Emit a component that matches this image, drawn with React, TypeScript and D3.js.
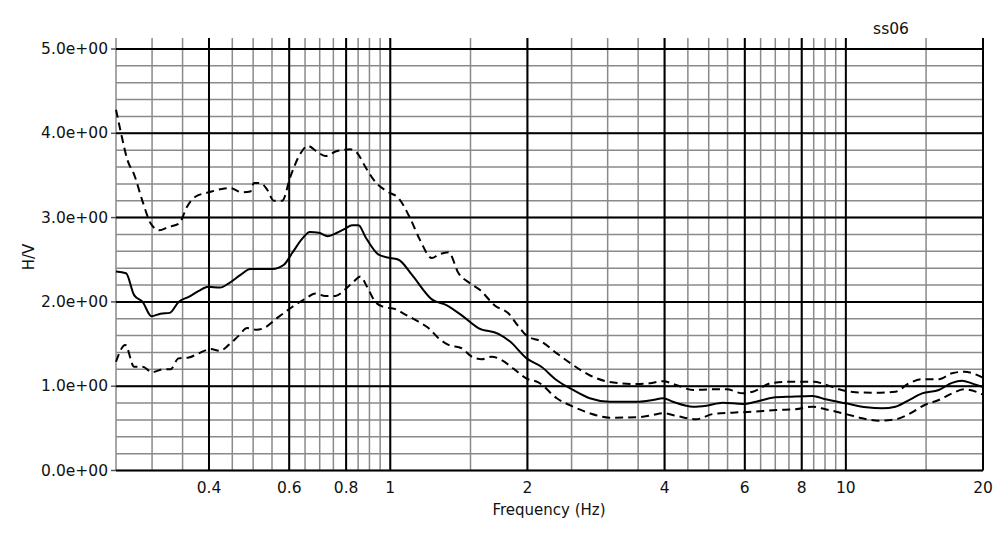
import React from "react";
import * as d3 from "d3";

const meanFreq = [0.25,0.263,0.274,0.286,0.299,0.313,0.328,0.343,0.361,0.38,0.398,0.423,0.442,0.469,0.493,0.512,0.551,0.584,0.609,0.641,0.666,0.697,0.729,0.764,0.797,0.824,0.852,0.882,0.943,1.0,1.043,1.116,1.234,1.331,1.435,1.561,1.727,1.832,1.992,2.146,2.32,2.52,2.74,3.03,3.52,3.77,3.97,4.17,4.62,4.94,5.37,5.94,6.35,6.9,7.6,8.44,9.02,10.0,11.1,12.0,12.85,13.76,14.7,16.0,17.1,18.0,18.9,20.0];
const meanHV = [2.36,2.34,2.08,2.0,1.83,1.86,1.87,2.0,2.06,2.13,2.18,2.17,2.22,2.32,2.39,2.39,2.39,2.44,2.58,2.75,2.83,2.82,2.78,2.82,2.87,2.91,2.91,2.77,2.56,2.52,2.50,2.32,2.03,1.96,1.84,1.69,1.62,1.53,1.33,1.23,1.07,0.955,0.857,0.816,0.816,0.836,0.857,0.816,0.757,0.769,0.804,0.789,0.816,0.864,0.876,0.884,0.845,0.797,0.75,0.738,0.757,0.836,0.915,0.955,1.04,1.065,1.034,0.99];

const upperFreq = [0.25,0.256,0.265,0.274,0.286,0.298,0.311,0.326,0.344,0.358,0.374,0.40,0.427,0.445,0.472,0.493,0.502,0.519,0.537,0.555,0.579,0.604,0.635,0.659,0.691,0.72,0.764,0.817,0.845,0.882,0.919,0.983,1.043,1.106,1.163,1.234,1.276,1.342,1.412,1.497,1.574,1.698,1.816,1.911,1.992,2.146,2.32,2.52,2.74,3.03,3.47,3.71,3.97,4.24,4.62,5.11,5.47,5.94,6.25,6.9,7.6,8.5,9.02,9.66,10.5,11.6,12.85,13.76,14.7,16.0,17.1,18.2,20.0];
const upperHV = [4.28,4.02,3.68,3.51,3.19,2.93,2.85,2.89,2.93,3.13,3.25,3.30,3.34,3.35,3.30,3.31,3.41,3.41,3.33,3.20,3.20,3.49,3.76,3.85,3.78,3.73,3.79,3.81,3.77,3.60,3.45,3.31,3.23,2.99,2.73,2.52,2.56,2.59,2.34,2.22,2.14,1.955,1.865,1.71,1.60,1.53,1.39,1.25,1.13,1.05,1.026,1.034,1.06,1.014,0.955,0.963,0.963,0.915,0.935,1.04,1.053,1.053,1.02,0.963,0.928,0.923,0.935,1.034,1.082,1.082,1.153,1.172,1.10];

const lowerFreq = [0.25,0.262,0.274,0.286,0.300,0.316,0.329,0.343,0.361,0.38,0.403,0.423,0.442,0.465,0.485,0.509,0.528,0.565,0.609,0.652,0.685,0.72,0.758,0.797,0.831,0.86,0.889,0.927,0.967,1.026,1.079,1.153,1.213,1.276,1.342,1.435,1.51,1.588,1.669,1.756,1.862,1.992,2.113,2.32,2.52,2.74,3.03,3.47,3.77,3.97,4.24,4.69,5.11,5.64,6.25,7.03,7.75,8.44,9.02,10.0,10.87,11.8,12.85,13.76,14.9,16.0,17.1,18.2,20.0];
const lowerHV = [1.29,1.49,1.23,1.23,1.165,1.20,1.20,1.33,1.34,1.39,1.44,1.42,1.49,1.60,1.69,1.67,1.69,1.81,1.94,2.04,2.10,2.07,2.07,2.15,2.24,2.30,2.18,2.00,1.94,1.915,1.85,1.765,1.69,1.57,1.49,1.45,1.35,1.32,1.35,1.31,1.21,1.09,1.046,0.857,0.757,0.679,0.627,0.631,0.658,0.679,0.65,0.607,0.67,0.686,0.698,0.718,0.726,0.757,0.726,0.67,0.619,0.591,0.607,0.67,0.777,0.836,0.915,0.963,0.90];

const xTicks = [0.4, 0.6, 0.8, 1, 2, 4, 6, 8, 10, 20];
const xTickLabels = ["0.4", "0.6", "0.8", "1", "2", "4", "6", "8", "10", "20"];
const yTicks = [0, 1, 2, 3, 4, 5];
const yTickLabels = ["0.0e+00", "1.0e+00", "2.0e+00", "3.0e+00", "4.0e+00", "5.0e+00"];

const W = 1002, H = 538;
const FONT = "'DejaVu Sans', sans-serif";

export default function App() {
  const x = d3.scaleLog().domain([0.25, 20]).range([116, 983]);
  const y = d3.scaleLinear().domain([0, 5]).range([470.5, 49]);

  const minorX: number[] = [];
  for (let i = 5; i < 20; i++) minorX.push(i * 0.05);
  for (let i = 2; i < 20; i++) minorX.push(i * 0.5);
  minorX.push(15);
  const minorY: number[] = [];
  for (let i = 0; i <= 25; i++) minorY.push(i * 0.2);

  const line = d3.line<[number, number]>()
    .x(d => x(d[0]))
    .y(d => y(d[1]))
    .curve(d3.curveMonotoneX);

  const mk = (f: number[], v: number[]) => line(f.map((ff, i) => [ff, v[i]] as [number, number])) || "";

  const top = 38;
  const bottom = y(0);

  return (
    <svg width={W} height={H} style={{ position: "absolute", left: 0, top: 0, background: "#fff" }}>
      <g>
        {minorY.map((v, i) => (
          <line key={"my" + i} x1={x(0.25)} x2={x(20)} y1={y(v)} y2={y(v)} stroke="#8a8a8a" strokeWidth={1.5} />
        ))}
        {minorX.map((f, i) => (
          <line key={"mx" + i} x1={x(f)} x2={x(f)} y1={top} y2={bottom} stroke="#8a8a8a" strokeWidth={1.5} />
        ))}
        {yTicks.map((v, i) => (
          <line key={"Y" + i} x1={x(0.25)} x2={x(20)} y1={y(v)} y2={y(v)} stroke="#000" strokeWidth={2} />
        ))}
        {yTicks.map((v, i) => (
          <line key={"Yt" + i} x1={x(0.25) - 5} x2={x(0.25)} y1={y(v)} y2={y(v)} stroke="#555" strokeWidth={1.5} />
        ))}
        {xTicks.map((f, i) => (
          <line key={"X" + i} x1={x(f)} x2={x(f)} y1={top} y2={bottom} stroke="#000" strokeWidth={2} />
        ))}
      </g>
      <path d={mk(upperFreq, upperHV)} fill="none" stroke="#000" strokeWidth={2} strokeDasharray="8,5" />
      <path d={mk(lowerFreq, lowerHV)} fill="none" stroke="#000" strokeWidth={2} strokeDasharray="8,5" />
      <path d={mk(meanFreq, meanHV)} fill="none" stroke="#000" strokeWidth={2} />
      <g fontFamily={FONT} fontSize={15.5} fill="#111">
        {yTicks.map((v, i) => (
          <text key={"yl" + i} x={108} y={y(v)} textAnchor="end" dominantBaseline="central">{yTickLabels[i]}</text>
        ))}
        {xTicks.map((f, i) => (
          <text key={"xl" + i} x={x(f)} y={493} textAnchor="middle">{xTickLabels[i]}</text>
        ))}
        <text x={549} y={515} textAnchor="middle" fontSize={15}>Frequency (Hz)</text>
        <text transform="translate(34,257) rotate(-90)" textAnchor="middle" fontSize={15}>H/V</text>
        <text x={891} y={34} textAnchor="middle">ss06</text>
      </g>
    </svg>
  );
}
